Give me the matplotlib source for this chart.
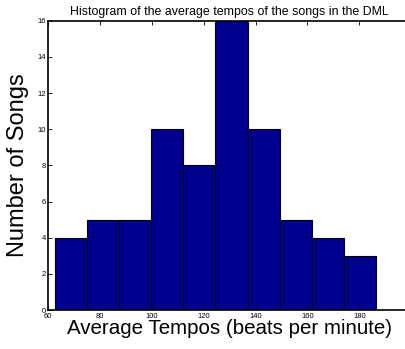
import matplotlib
matplotlib.use('Agg')
import matplotlib.pyplot as plt
import numpy as np

# histogram bins (beats per minute) and counts
bin_edges = [62.7, 75.1, 87.4, 99.8, 112.2, 124.5, 136.9, 149.3, 161.6, 174.0, 186.4]
counts = [4, 5, 5, 10, 8, 16, 10, 5, 4, 3]
x_ticks = [60, 80, 100, 120, 140, 160, 180]
y_ticks = [0, 2, 4, 6, 8, 10, 12, 14, 16]

plt.rcParams['font.family'] = ['Liberation Sans', 'DejaVu Sans']

fig = plt.figure(figsize=(4.05, 3.49), dpi=100)
ax = fig.add_axes([0.1185, 0.1117, 0.897, 0.829])

edges = np.array(bin_edges)
ax.bar(edges[:-1], counts, width=np.diff(edges), align='edge',
       color='#00008F', edgecolor='black', linewidth=0.8)

ax.set_xlim(60, 200)
ax.set_ylim(0, 16)
ax.set_xticks(x_ticks)
ax.set_yticks(y_ticks)
ax.tick_params(direction='in', labelsize=5.5, length=3, width=0.6,
               top=True, right=True, pad=1.5)
ax.tick_params(axis='x', pad=2.5)
for s in ax.spines.values():
    s.set_linewidth(1.2)

ax.set_title('Histogram of the average tempos of the songs in the DML',
             fontsize=8.9, pad=4)
ax.set_xlabel('Average Tempos (beats per minute)', fontsize=14.8, labelpad=-1)
ax.set_ylabel('Number of Songs', fontsize=17, labelpad=6)

fig.savefig('out.png', dpi=100, facecolor='white')
plt.close(fig)
